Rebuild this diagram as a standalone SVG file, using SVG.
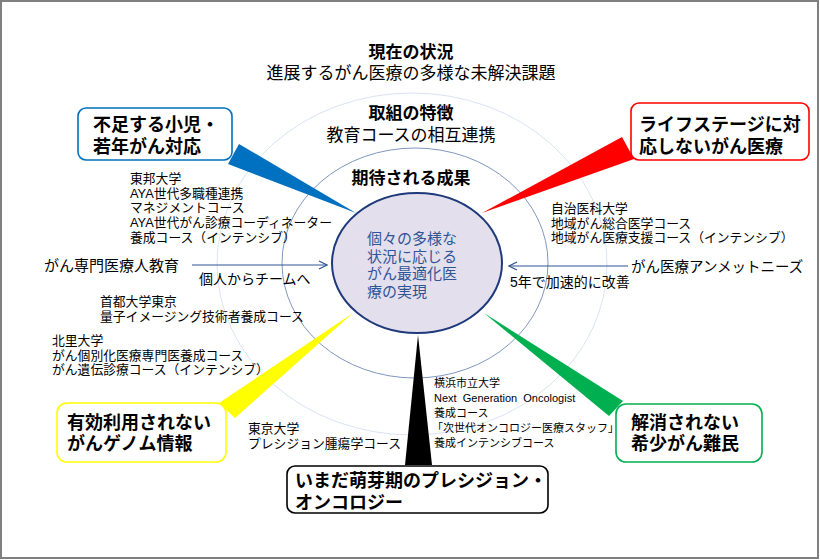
<svg xmlns="http://www.w3.org/2000/svg" width="820" height="560" viewBox="0 0 820 560">
<defs>
<style>
text{font-family:"Liberation Sans","Noto Sans CJK JP",sans-serif;fill:#000}
.ttl{font-size:17px;font-weight:bold;text-anchor:middle}
.sub{font-size:17px;text-anchor:middle}
.cb{font-size:18px;font-weight:bold}
.sm{font-size:12.8px}
.xs{font-size:11px}
.md{font-size:15px}
.ell{font-size:15px;fill:#2f5597}
.box{fill:#fff;stroke-width:1.6}
.arr{stroke:#2f5597;stroke-width:1;fill:none}
</style>
<marker id="ah" viewBox="0 0 10 10" refX="9" refY="5" markerWidth="10" markerHeight="10" markerUnits="userSpaceOnUse" orient="auto">
<path d="M1,1 L9,5 L1,9" fill="none" stroke="#2f5597" stroke-width="1.2"/>
</marker>
</defs>
<rect x="1" y="1" width="817" height="557" fill="#fff" stroke="#7f7f7f" stroke-width="2"/>

<g id="rings">
<ellipse cx="412" cy="264" rx="195" ry="171" fill="none" stroke="#dae3f3" stroke-width="1"/>
<ellipse cx="415" cy="263" rx="133" ry="115" fill="none" stroke="#7f97c0" stroke-width="1"/>
</g>

<g id="titles">
<text class="ttl" x="411" y="58">現在の状況</text>
<text class="sub" x="411" y="79">進展するがん医療の多様な未解決課題</text>
<text class="ttl" x="411" y="119">取組の特徴</text>
<text class="sub" x="411" y="141">教育コースの相互連携</text>
<text class="ttl" x="411" y="184">期待される成果</text>
</g>

<g id="connectors">
<polygon points="239,144 228,164 356,213" fill="#0070c0"/>
<polygon points="622,137 634,159 482,213" fill="#ff0000"/>
<polygon points="219,403 235,418 353,313" fill="#ffff00"/>
<polygon points="405,465 432,465 418,335" fill="#000"/>
<polygon points="623,401 609,416 484,313" fill="#00b050"/>
<line class="arr" x1="192" y1="265" x2="327" y2="265" marker-end="url(#ah)"/>
<line class="arr" x1="628" y1="266" x2="509" y2="266" marker-end="url(#ah)"/>
</g>

<g id="center">
<ellipse cx="417" cy="263" rx="85" ry="70" fill="#e4dfec" stroke="#1f3a7a" stroke-width="2"/>
<text class="ell" x="367" y="244">個々の多様な</text>
<text class="ell" x="367" y="261.5">状況に応じる</text>
<text class="ell" x="367" y="279">がん最適化医</text>
<text class="ell" x="367" y="296.5">療の実現</text>
</g>

<g id="box-blue">
<rect class="box" x="78" y="108" width="154" height="52" rx="8" stroke="#0070c0"/>
<text class="cb" x="93" y="131">不足する小児・</text>
<text class="cb" x="93" y="153">若年がん対応</text>
</g>

<g id="box-red">
<rect class="box" x="631" y="103" width="178" height="57" rx="8" stroke="#ff0000"/>
<text class="cb" x="639" y="131">ライフステージに対</text>
<text class="cb" x="639" y="153">応しないがん医療</text>
</g>

<g id="box-yellow">
<rect class="box" x="57" y="403" width="169" height="59" rx="10" stroke="#ffff00"/>
<text class="cb" x="67" y="429">有効利用されない</text>
<text class="cb" x="67" y="450">がんゲノム情報</text>
</g>

<g id="box-black">
<rect class="box" x="287" y="466" width="261" height="47" rx="8" stroke="#000"/>
<text class="cb" x="295" y="487">いまだ萌芽期のプレシジョン・</text>
<text class="cb" x="295" y="509">オンコロジー</text>
</g>

<g id="box-green">
<rect class="box" x="616" y="404" width="146" height="58" rx="10" stroke="#00b050"/>
<text class="cb" x="631" y="429">解消されない</text>
<text class="cb" x="631" y="450">希少がん難民</text>
</g>

<g id="labels">
<text class="sm" x="130" y="183">東邦大学</text>
<text class="sm" x="130" y="197.7">AYA世代多職種連携</text>
<text class="sm" x="130" y="212.4">マネジメントコース</text>
<text class="sm" x="130" y="227.1">AYA世代がん診療コーディネーター</text>
<text class="sm" x="130" y="241.8">養成コース（インテンシブ）</text>

<text class="md" x="44" y="271">がん専門医療人教育</text>
<text class="sm" x="199" y="284" style="font-size:14px">個人からチームへ</text>

<text class="md" x="631" y="272" style="font-size:14.5px">がん医療アンメットニーズ</text>
<text class="sm" x="510" y="287" style="font-size:14px">5年で加速的に改善</text>

<text class="sm" x="551" y="213">自治医科大学</text>
<text class="sm" x="551" y="227.5">地域がん総合医学コース</text>
<text class="sm" x="551" y="242">地域がん医療支援コース（インテンシブ）</text>

<text class="sm" x="100" y="306">首都大学東京</text>
<text class="sm" x="100" y="320.5">量子イメージング技術者養成コース</text>

<text class="sm" x="52" y="345">北里大学</text>
<text class="sm" x="52" y="359.5">がん個別化医療専門医養成コース</text>
<text class="sm" x="52" y="374">がん遺伝診療コース（インテンシブ）</text>

<text class="sm" x="248" y="433">東京大学</text>
<text class="sm" x="248" y="448">プレシジョン腫瘍学コース</text>

<text class="xs" x="434" y="387">横浜市立大学</text>
<text class="xs" x="434" y="402" xml:space="preserve">Next  Generation  Oncologist</text>
<text class="xs" x="434" y="417">養成コース</text>
<text class="xs" x="432" y="432">「次世代オンコロジー医療スタッフ」</text>
<text class="xs" x="434" y="447">養成インテンシブコース</text>
</g>
</svg>
